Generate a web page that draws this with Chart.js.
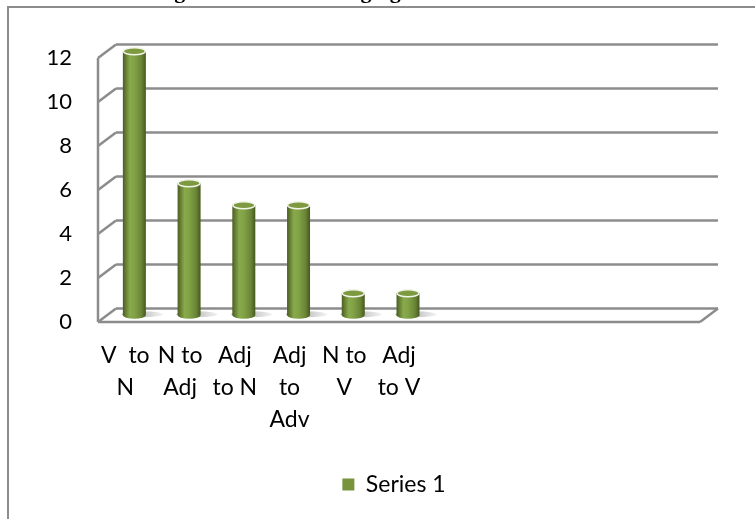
<!DOCTYPE html>
<html>
<head>
<meta charset="utf-8">
<script src="https://cdn.jsdelivr.net/npm/chart.js@4.4.1/dist/chart.umd.min.js"></script>
<style>
  html, body { margin: 0; padding: 0; background: #ffffff; }
  #wrap { width: 755px; height: 519px; }
</style>
</head>
<body>
<div id="wrap"><canvas id="c" width="755" height="519"></canvas></div>
<script>
// ---- data ----
const titleText = "Diagram 1: Class Changing";
const categories = [["V  to", "N"], ["N to", "Adj"], ["Adj", "to N"], ["Adj", "to", "Adv"], ["N to", "V"], ["Adj", "to V"], "", "", "", "", ""];
const seriesName = "Series 1";
const seriesValues = [12, 6, 5, 5, 1, 1, null, null, null, null, null];
const yMin = 0;
const yMax = 12;
const yStep = 2;

// ---- styling / geometry ----
const DEPTH_X = 18, DEPTH_Y = -13.5;   // front -> back wall offset
const GRID = '#8c8c8c';
const FONT = 'Lato, "Open Sans", sans-serif';

function line(ctx, x1, y1, x2, y2) {
  ctx.beginPath(); ctx.moveTo(x1, y1); ctx.lineTo(x2, y2); ctx.stroke();
}

function drawCylinder(ctx, cx, top, bot, w) {
  const rx = w / 2, ry = 3.5;
  const sg = ctx.createLinearGradient(cx, 0, cx + w + 10, 0);
  sg.addColorStop(0, 'rgba(110,110,110,0.55)');
  sg.addColorStop(1, 'rgba(110,110,110,0)');
  ctx.fillStyle = sg;
  ctx.beginPath(); ctx.ellipse(cx + 8, bot - 1, w * 0.9, 3, 0, 0, Math.PI * 2); ctx.fill();
  const g = ctx.createLinearGradient(cx - rx, 0, cx + rx, 0);
  g.addColorStop(0, '#4b5e22');
  g.addColorStop(0.3, '#88aa4b');
  g.addColorStop(0.5, '#82a246');
  g.addColorStop(0.8, '#6a8636');
  g.addColorStop(1, '#46581f');
  ctx.fillStyle = g;
  ctx.beginPath();
  ctx.moveTo(cx - rx, top);
  ctx.lineTo(cx - rx, bot);
  ctx.ellipse(cx, bot, rx, ry, 0, Math.PI, 0, true);
  ctx.lineTo(cx + rx, top);
  ctx.ellipse(cx, top, rx, ry, 0, 0, Math.PI, true);
  ctx.closePath();
  ctx.fill();
  ctx.fillStyle = '#7d9a40';
  ctx.strokeStyle = '#f2f5ea';
  ctx.lineWidth = 1.5;
  ctx.beginPath(); ctx.ellipse(cx, top, rx - 0.5, ry, 0, 0, Math.PI * 2); ctx.fill(); ctx.stroke();
}

const walls = {
  id: 'walls',
  afterLayout(chart) {
    // legend is centred on the (wider, cropped) original chart frame
    const lg = chart.legend;
    if (lg) { lg.left += 29; lg.right += 29; }
  },
  beforeDraw(chart) {
    const ctx = chart.ctx;
    ctx.save();
    ctx.fillStyle = '#ffffff';
    ctx.fillRect(0, 0, chart.width, chart.height);
    ctx.strokeStyle = '#8c8c8c';
    ctx.lineWidth = 2;
    ctx.beginPath(); ctx.moveTo(8, 530); ctx.lineTo(8, 7); ctx.lineTo(770, 7); ctx.stroke();
    ctx.fillStyle = '#000';
    ctx.font = 'bold 22px "Liberation Serif", "Times New Roman", serif';
    ctx.textAlign = 'center';
    ctx.textBaseline = 'alphabetic';
    ctx.fillText(titleText, 271, -2);
    ctx.restore();
  },
  beforeDatasetsDraw(chart) {
    const ctx = chart.ctx;
    const ys = chart.scales.y, a = chart.chartArea;
    ctx.save();
    ctx.strokeStyle = GRID;
    ctx.lineWidth = 2.5;
    ctx.lineCap = 'butt';
    ys.ticks.forEach(t => {
      const fy = ys.getPixelForValue(t.value);
      const by = fy + DEPTH_Y;
      line(ctx, a.left, fy, a.left + DEPTH_X, by);
      line(ctx, a.left + DEPTH_X, by, a.right + DEPTH_X, by);
    });
    line(ctx, a.left, ys.getPixelForValue(yMax), a.left, ys.getPixelForValue(yMin));
    const fy0 = ys.getPixelForValue(yMin);
    line(ctx, a.left, fy0, a.right, fy0);
    line(ctx, a.right, fy0, a.right + DEPTH_X, fy0 + DEPTH_Y);
    const meta = chart.getDatasetMeta(0);
    meta.data.forEach((el, i) => {
      if (seriesValues[i] == null) return;
      const p = el.getProps(['x', 'y', 'base', 'width'], true);
      drawCylinder(ctx, p.x + DEPTH_X / 2, p.y + DEPTH_Y / 2, p.base + DEPTH_Y / 2, p.width);
    });
    ctx.restore();
    return false;
  }
};

new Chart(document.getElementById('c'), {
  type: 'bar',
  data: {
    labels: categories,
    datasets: [{
      label: seriesName,
      data: seriesValues,
      backgroundColor: '#77933c',
      borderWidth: 0,
      categoryPercentage: 1,
      barPercentage: 0.42
    }]
  },
  options: {
    responsive: false,
    animation: false,
    devicePixelRatio: 1,
    layout: { padding: { left: 30, right: 55, top: 58, bottom: 13 } },
    scales: {
      y: {
        min: yMin, max: yMax,
        afterFit: s => { s.width = 68; },
        grid: { display: false, drawTicks: false },
        border: { display: false },
        ticks: { stepSize: yStep, padding: 26, color: '#000', font: { family: FONT, size: 22 } }
      },
      x: {
        afterFit: s => { s.height = 141; },
        grid: { display: false, drawTicks: false },
        border: { display: false },
        ticks: { autoSkip: false, maxRotation: 0, minRotation: 0, padding: 17, color: '#000',
                 font: { family: FONT, size: 23, lineHeight: 1.4 } }
      }
    },
    plugins: {
      legend: {
        position: 'bottom',
        labels: { boxWidth: 12, boxHeight: 12, color: '#000', padding: 10, font: { family: FONT, size: 23 } }
      },
      title: { display: false },
      tooltip: { enabled: false }
    }
  },
  plugins: [walls]
});
</script>
</body>
</html>
